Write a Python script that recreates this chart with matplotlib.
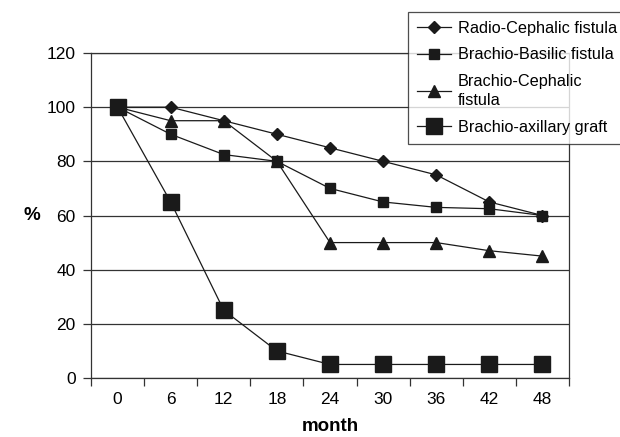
import matplotlib
matplotlib.use("Agg")
import matplotlib.pyplot as plt
from matplotlib.ticker import FixedLocator, NullFormatter

months = ["0", "6", "12", "18", "24", "30", "36", "42", "48"]
radio_cephalic = [100, 100, 95, 90, 85, 80, 75, 65, 60]
brachio_basilic = [100, 90, 82.5, 80, 70, 65, 63, 62.5, 60]
brachio_cephalic = [100, 95, 95, 80, 50, 50, 50, 47, 45]
brachio_axillary = [100, 65, 25, 10, 5, 5, 5, 5, 5]
y_ticks = [0, 20, 40, 60, 80, 100, 120]

plt.rcParams['font.family'] = ['Liberation Sans', 'DejaVu Sans']

fig = plt.figure(figsize=(6.2, 4.37), dpi=100)
ax = fig.add_axes([91/620, 1-378/437, (569-91)/620, (378-53)/437])

x = list(range(len(months)))
lw = 0.9
c = '#1a1a1a'
ax.plot(x, radio_cephalic, color=c, lw=lw, marker='D', ms=6.5, label='Radio-Cephalic fistula', zorder=3)
ax.plot(x, brachio_basilic, color=c, lw=lw, marker='s', ms=6.5, label='Brachio-Basilic fistula', zorder=3)
ax.plot(x, brachio_cephalic, color=c, lw=lw, marker='^', ms=9, label='Brachio-Cephalic\nfistula', zorder=3)
ax.plot(x, brachio_axillary, color=c, lw=lw, marker='s', ms=12, label='Brachio-axillary graft', zorder=4)

ax.set_xlim(-0.5, len(months) - 0.5)
ax.set_ylim(0, 120)
ax.set_yticks(y_ticks)
ax.set_xticks(x)
ax.set_xticklabels(months)
ax.xaxis.set_minor_locator(FixedLocator([i - 0.5 for i in range(len(months) + 1)]))
ax.xaxis.set_minor_formatter(NullFormatter())
ax.tick_params(axis='x', which='major', length=0, pad=10, labelsize=12.5)
ax.tick_params(axis='x', which='minor', length=6, width=0.9, direction='out', color='#333333')
ax.tick_params(axis='y', which='major', length=6, width=0.9, direction='out', labelsize=12.5, pad=5, color='#333333')

ax.yaxis.grid(True, color='#333333', lw=0.9)
ax.set_axisbelow(True)
for s in ['left', 'bottom', 'right', 'top']:
    ax.spines[s].set_color('#333333')
    ax.spines[s].set_linewidth(0.9)

ax.set_xlabel('month', fontsize=13.5, fontweight='bold', labelpad=8)
ax.set_ylabel('%', fontsize=13.5, fontweight='bold', rotation=0, labelpad=11, va='center')

leg = fig.legend(loc='upper left', bbox_to_anchor=(408/620, 1-12/437), bbox_transform=fig.transFigure,
                 fontsize=11.7, frameon=True, fancybox=False, edgecolor='#222222',
                 handlelength=2.1, labelspacing=0.7, borderpad=0.55, handletextpad=0.4,
                 borderaxespad=0)
leg.get_texts()[2].set_linespacing(1.4)
leg.get_frame().set_linewidth(0.9)
leg.set_zorder(10)

fig.savefig('out.png', dpi=100)
